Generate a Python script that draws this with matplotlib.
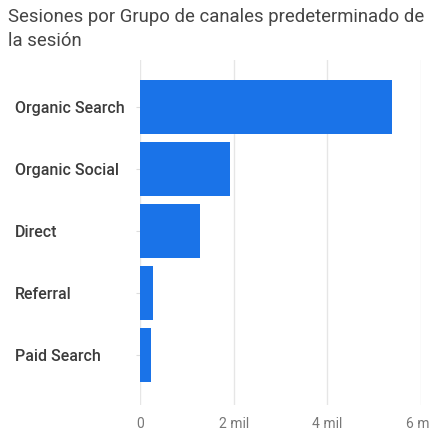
import matplotlib
matplotlib.use("Agg")
import matplotlib.pyplot as plt
from matplotlib.ticker import FuncFormatter

plt.rcParams['font.family'] = ['Roboto', 'DejaVu Sans']

channels = ["Organic Search", "Organic Social", "Direct", "Referral", "Paid Search"]
sessions_mil = [5.39, 1.93, 1.28, 0.28, 0.24]
x_ticks = [0, 2, 4, 6]

title = "Sesiones por Grupo de canales predeterminado de\nla sesión"

fig = plt.figure(figsize=(4.3, 4.34), dpi=100)
ax = fig.add_axes([0.3256, 0.067, 0.6535, 0.795])

ypos = list(range(len(channels)))
ax.barh(ypos, sessions_mil, height=0.87, color="#1a73e8", zorder=3)

ax.set_xlim(0, 6)
ax.set_ylim(4.81, -0.76)
ax.set_xticks(x_ticks)
ax.xaxis.set_major_formatter(FuncFormatter(lambda v, p: "0" if v == 0 else f"{v:g} mil"))
ax.grid(axis="x", color="#e6e6e6", linewidth=1, zorder=0)

ax.set_yticks(ypos)
ax.set_yticklabels(channels, ha="left", color="#3c3c3c", fontsize=11.5, fontweight="medium")
ax.tick_params(axis="y", pad=87, length=3, color="#dddddd")
ax.tick_params(axis="x", length=0, pad=9, labelcolor="#777777", labelsize=10)

for s in ax.spines.values():
    s.set_visible(False)

fig.text(0.019, 0.982, title, ha="left", va="top", fontsize=13.3,
         color="#444444", linespacing=1.45)

fig.savefig("out.png", dpi=100)
